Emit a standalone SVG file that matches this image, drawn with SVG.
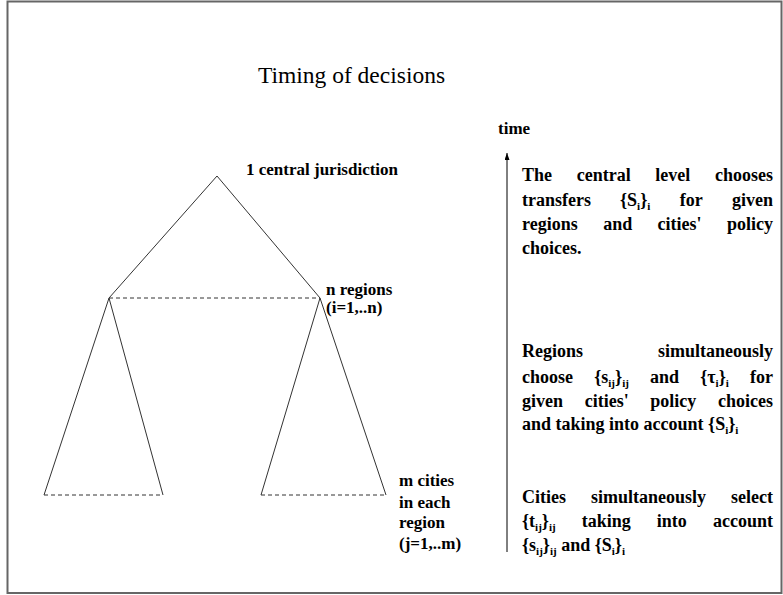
<svg xmlns="http://www.w3.org/2000/svg" width="783" height="595" viewBox="0 0 783 595">
<style>
.t{font-family:"Liberation Serif","Times New Roman",serif;font-weight:bold;font-size:17px;fill:#000}
.r{font-family:"Liberation Serif","Times New Roman",serif;font-weight:bold;font-size:18px;fill:#000}
.e{text-anchor:end}
.s{font-size:11px}
.title{font-family:"Liberation Serif","Times New Roman",serif;font-size:23.5px;fill:#000}
.ln{stroke:#333;stroke-width:1;fill:none}
.dash{stroke:#333;stroke-width:1;fill:none;stroke-dasharray:4 3}
</style>
<defs>
<marker id="ah" markerWidth="7" markerHeight="5" refX="7" refY="2.5" orient="auto" markerUnits="userSpaceOnUse" viewBox="0 0 7 5">
<path d="M0,0 L7,2.5 L0,5 Z" fill="#000"/>
</marker>
</defs>
<rect x="0" y="0" width="783" height="595" fill="#fff"/>
<rect x="7.5" y="1.5" width="774" height="591.5" fill="none" stroke="#666" stroke-width="2"/>
<text class="title" x="351.5" y="83" text-anchor="middle">Timing of decisions</text>

<g id="connectors">
<polyline class="ln" points="109,298 217,176 320,298"/>
<line class="dash" x1="109" y1="298" x2="320" y2="298"/>
<polyline class="ln" points="44,495 109,298 163,495"/>
<line class="dash" x1="44" y1="495" x2="163" y2="495"/>
<polyline class="ln" points="261,495 320,298 386,495"/>
<line class="dash" x1="261" y1="495" x2="386" y2="495"/>
<line x1="507" y1="552" x2="507" y2="153" stroke="#000" stroke-width="1" marker-end="url(#ah)"/>
</g>

<g id="central"><text class="t" x="246" y="175">1 central jurisdiction</text></g>
<g id="regions"><text class="t" x="326" y="295">n regions</text><text class="t" x="326" y="313">(i=1,..n)</text></g>
<g id="cities"><text class="t" x="399" y="486">m cities</text><text class="t" x="399" y="508">in each</text><text class="t" x="399" y="528">region</text><text class="t" x="399" y="549">(j=1,..m)</text></g>
<g id="time"><text class="t" x="498" y="134">time</text></g>

<g id="step-central">
<text class="r" y="181"><tspan x="522">The</tspan><tspan x="576.7">central</tspan><tspan x="655.3">level</tspan></text>
<text class="r e" x="773" y="181">chooses</text>
<text class="r" y="206"><tspan x="522">transfers</tspan><tspan x="620">{S</tspan><tspan class="s" dy="4">i</tspan><tspan dy="-4">}</tspan><tspan class="s" dy="4">i</tspan><tspan x="679.7" dy="-4">for</tspan></text>
<text class="r e" x="773" y="206">given</text>
<text class="r" y="230"><tspan x="522">regions</tspan><tspan x="603.3">and</tspan><tspan x="657.6">cities'</tspan></text>
<text class="r e" x="773" y="230">policy</text>
<text class="r" x="522" y="254">choices.</text>
</g>

<g id="step-regions">
<text class="r" y="357"><tspan x="522">Regions</tspan></text>
<text class="r e" x="773" y="357">simultaneously</text>
<text class="r" y="383"><tspan x="522">choose</tspan><tspan x="594.2">{s</tspan><tspan class="s" dy="4">ij</tspan><tspan dy="-4">}</tspan><tspan class="s" dy="4">ij</tspan><tspan x="650" dy="-4">and</tspan><tspan x="700.2">{τ</tspan><tspan class="s" dy="4">i</tspan><tspan dy="-4">}</tspan><tspan class="s" dy="4">i</tspan></text>
<text class="r e" x="773" y="383">for</text>
<text class="r" y="407"><tspan x="522">given</tspan><tspan x="584.7">cities'</tspan><tspan x="650.3">policy</tspan></text>
<text class="r e" x="773" y="407">choices</text>
<text class="r" x="522" y="430">and taking into account {S<tspan class="s" dy="4">i</tspan><tspan dy="-4">}</tspan><tspan class="s" dy="4">i</tspan></text>
</g>

<g id="step-cities">
<text class="r" y="503"><tspan x="522">Cities</tspan><tspan x="591">simultaneously</tspan></text>
<text class="r e" x="773" y="503">select</text>
<text class="r" y="527"><tspan x="522">{t</tspan><tspan class="s" dy="4">ij</tspan><tspan dy="-4">}</tspan><tspan class="s" dy="4">ij</tspan><tspan x="581.7" dy="-4">taking</tspan><tspan x="656.8">into</tspan></text>
<text class="r e" x="773" y="527">account</text>
<text class="r" x="522" y="551">{s<tspan class="s" dy="4">ij</tspan><tspan dy="-4">}</tspan><tspan class="s" dy="4">ij</tspan><tspan dy="-4"> and {S</tspan><tspan class="s" dy="4">i</tspan><tspan dy="-4">}</tspan><tspan class="s" dy="4">i</tspan></text>
</g>
</svg>
